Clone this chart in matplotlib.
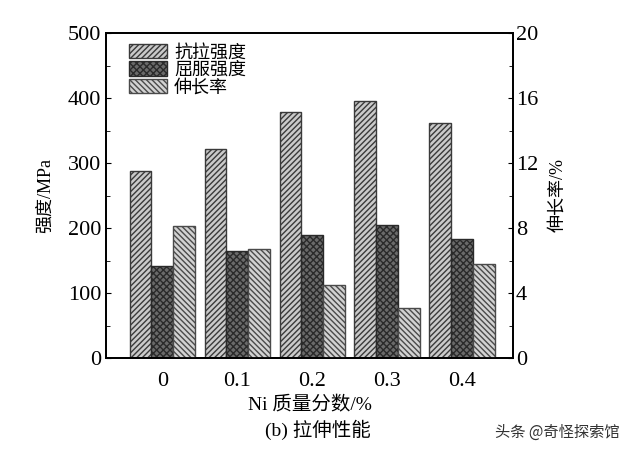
import numpy as np
import matplotlib.pyplot as plt
from matplotlib.ticker import MultipleLocator

plt.rcParams['font.family'] = ['Liberation Serif', 'Noto Sans CJK SC']
plt.rcParams['hatch.linewidth'] = 1.0

ni = ['0', '0.1', '0.2', '0.3', '0.4']
tensile = [287, 322, 378, 396, 362]
yield_s = [142, 165, 190, 205, 183]
elong = [8.1, 6.7, 4.5, 3.1, 5.8]

x = np.arange(len(ni))
w = 0.29

fig = plt.figure(figsize=(6.36, 4.54), dpi=100)
ax = fig.add_axes([106/636, 1-358/454, 407/636, 325/454])
ax2 = ax.twinx()

b1 = ax.bar(x - w, tensile, w, color='#cacaca', edgecolor='#3a3a3a', hatch='//////', lw=1, label='抗拉强度')
b2 = ax.bar(x, yield_s, w, color='#6a6a6a', edgecolor='#2a2a2a', hatch='xxxxx', lw=1, label='屈服强度')
b3 = ax2.bar(x + w, elong, w, color='#d2d2d2', edgecolor='#4a4a4a', hatch='\\\\\\\\\\\\', lw=1, label='伸长率')

ax.set_xlim(-0.75, 4.68)
ax.set_ylim(0, 500)
ax2.set_ylim(0, 20)
ax.set_xticks(x)
ax.set_xticklabels(ni)
ax.yaxis.set_major_locator(MultipleLocator(100))
ax.yaxis.set_minor_locator(MultipleLocator(50))
ax2.yaxis.set_major_locator(MultipleLocator(4))
ax2.yaxis.set_minor_locator(MultipleLocator(2))
ax.tick_params(axis='x', length=0, labelsize=16, pad=10)
ax.tick_params(axis='y', which='both', direction='in', labelsize=16)
ax2.tick_params(axis='y', which='both', direction='in', labelsize=16, pad=2)
ax.tick_params(axis='y', which='minor', length=3)
ax2.tick_params(axis='y', which='minor', length=3)
for a in (ax, ax2):
    for s in a.spines.values():
        s.set_linewidth(1.3)

ax.set_ylabel('强度/MPa', fontsize=13, labelpad=10)
ax2.set_ylabel('伸长率/%', fontsize=13, rotation=90, labelpad=8)
ax.set_xlabel('Ni 质量分数/%', fontsize=14, labelpad=4)

ax.legend(handles=[b1, b2, b3], loc='upper left', bbox_to_anchor=(0.03, 1.0),
          frameon=False, fontsize=13, handlelength=2.1, handleheight=0.85,
          labelspacing=0.0, handletextpad=0.4, borderaxespad=0.2)

fig.text(0.5, 1-430/454, '(b) 拉伸性能', ha='center', va='center', fontsize=14)
fig.text(0.975, 1-432/454, '头条 @奇怪探索馆', ha='right', va='center', fontsize=11,
         color='#333333', family=['Noto Sans CJK SC'])

fig.savefig('out.png', dpi=100)
